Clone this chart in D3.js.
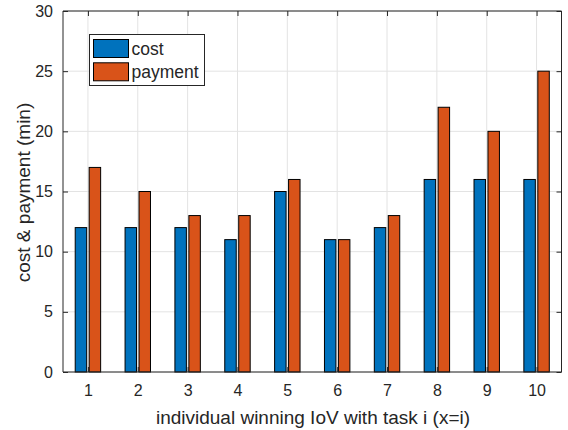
<!DOCTYPE html>
<html><head><meta charset="utf-8">
<script src="https://cdn.jsdelivr.net/npm/d3@7"></script>
<style>body{margin:0;background:#fff}svg{display:block}text{font-family:"Liberation Sans",Arial,sans-serif;fill:#262626}</style>
</head><body>
<script>
const categories = [1,2,3,4,5,6,7,8,9,10];
const cost = [12,12,12,11,15,11,12,16,16,16];
const payment = [17,15,13,13,16,11,13,22,20,25];
const yTicks = [0,5,10,15,20,25,30];
const seriesNames = ["cost","payment"];
const colors = ["#0072BD","#D95319"];

const W=568,H=430;
const L=63,R=561.5,T=11,B=372;
const svg=d3.select("body").append("svg").attr("width",W).attr("height",H);
const x=d3.scaleLinear().domain([0.5,10.5]).range([L,R]);
const y=d3.scaleLinear().domain([0,30]).range([B,T]);

// grid
svg.append("g").selectAll("line.v").data(categories).join("line")
  .attr("x1",d=>x(d)).attr("x2",d=>x(d)).attr("y1",T).attr("y2",B)
  .attr("stroke","#e3e3e3").attr("stroke-width",1);
svg.append("g").selectAll("line.h").data(yTicks).join("line")
  .attr("x1",L).attr("x2",R).attr("y1",d=>y(d)).attr("y2",d=>y(d))
  .attr("stroke","#e3e3e3").attr("stroke-width",1);

// bars
const bw=0.23, off=0.14;
[cost,payment].forEach((vals,si)=>{
  svg.append("g").selectAll("rect").data(vals).join("rect")
    .attr("x",(d,i)=>x(categories[i]+(si===0?-off:off)-bw/2))
    .attr("width",x(bw)-x(0))
    .attr("y",d=>y(d)).attr("height",d=>y(0)-y(d))
    .attr("fill",colors[si]).attr("stroke","#000").attr("stroke-width",1);
});

// axes
const ax=d3.axisBottom(x).tickValues(categories).tickSize(-5).tickPadding(13).tickFormat(d3.format("d"));
const gx=svg.append("g").attr("transform",`translate(0,${B})`).call(ax);
const ay=d3.axisLeft(y).tickValues(yTicks).tickSize(-5).tickPadding(10);
const gy=svg.append("g").attr("transform",`translate(${L},0)`).call(ay);
const axT=d3.axisTop(x).tickValues(categories).tickSize(-5).tickFormat("");
const gt=svg.append("g").attr("transform",`translate(0,${T})`).call(axT);
const ayR=d3.axisRight(y).tickValues(yTicks).tickSize(-5).tickFormat("");
const gr=svg.append("g").attr("transform",`translate(${R},0)`).call(ayR);
[gx,gy,gt,gr].forEach(g=>{
  g.select(".domain").attr("stroke","#262626").attr("stroke-width",1);
  g.selectAll(".tick line").attr("stroke","#262626");
  g.selectAll("text").style("font-size","16px").attr("fill","#262626").style("font-family","Liberation Sans, Arial, sans-serif");
});
gx.selectAll(".domain").attr("d",`M${L},0H${R}`);
gt.selectAll(".domain").attr("d",`M${L},0H${R}`);
gy.selectAll(".domain").attr("d",`M0,${B}V${T}`);
gr.selectAll(".domain").attr("d",`M0,${B}V${T}`);

// labels
svg.append("text").attr("x",313).attr("y",424).attr("text-anchor","middle")
  .style("font-size","19px").text("individual winning IoV with task i (x=i)");
svg.append("text").attr("transform",`translate(30,${(T+B)/2+1}) rotate(-90)`).attr("text-anchor","middle")
  .style("font-size","19px").text("cost & payment (min)");

// legend
const lg=svg.append("g");
lg.append("rect").attr("x",89.5).attr("y",34.5).attr("width",115).attr("height",51)
  .attr("fill","#fff").attr("stroke","#262626").attr("stroke-width",1);
seriesNames.forEach((n,i)=>{
  lg.append("rect").attr("x",93.5).attr("y",39.5+i*23.3).attr("width",35).attr("height",18)
    .attr("fill",colors[i]).attr("stroke","#000").attr("stroke-width",1);
  lg.append("text").attr("x",131.5).attr("y",54.5+i*23.3).style("font-size","17.5px").text(n);
});
</script>
</body></html>
